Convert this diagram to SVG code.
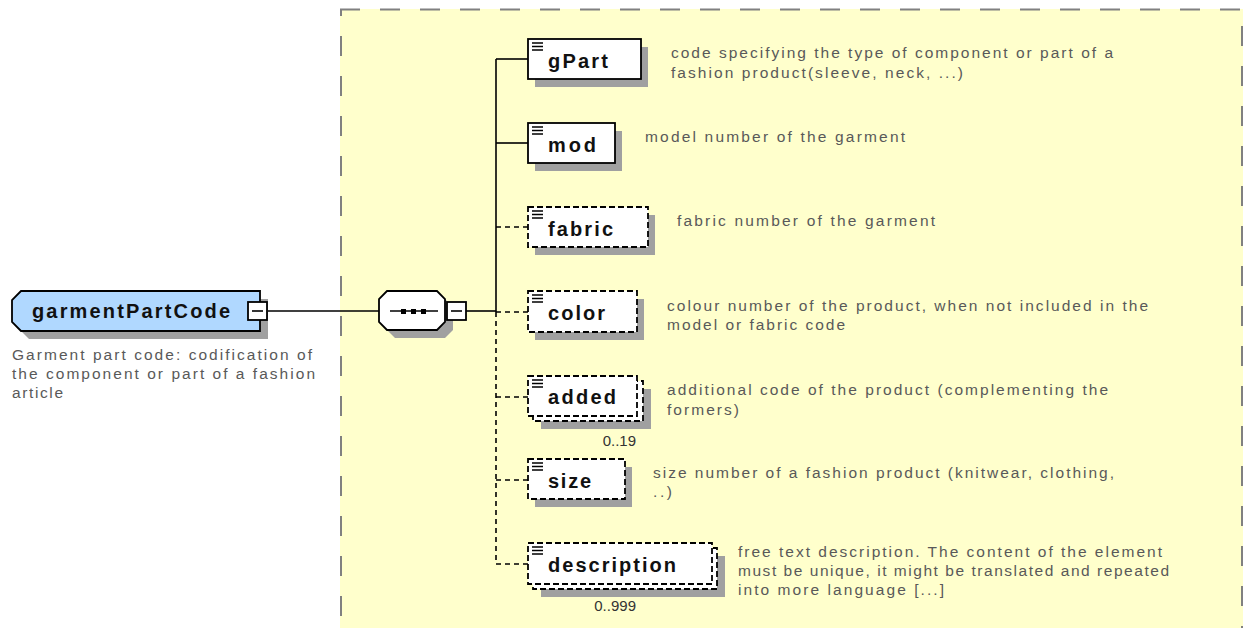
<svg xmlns="http://www.w3.org/2000/svg" width="1243" height="628" viewBox="0 0 1243 628">
<style>
.bg{fill:#FFFFCC}
.border{fill:none;stroke:#808080;stroke-width:2;stroke-dasharray:20 20}
.shadow{fill:#A0A0A0}
.box{fill:#FFFFFF;stroke:#000;stroke-width:1.8}
.dbox{fill:#FFFFFF;stroke:#000;stroke-width:1.8;stroke-dasharray:6 3}
.root{fill:#B0D8FF;stroke:#000;stroke-width:1.8}
.icon{stroke:#000;stroke-width:1.3}
.ln{fill:none;stroke:#000;stroke-width:1.6}
.dln{fill:none;stroke:#000;stroke-width:1.6;stroke-dasharray:5 4}
.lbl{font-family:"Liberation Sans",Arial,sans-serif;font-weight:bold;font-size:20px;fill:#111}
.doc{font-family:"Liberation Sans",Arial,sans-serif;font-size:15.5px;fill:#595959}
.occ{font-family:"Liberation Sans",Arial,sans-serif;font-size:15px;fill:#333;text-anchor:end}
</style>
<defs>
<g id="ico"><path class="icon" d="M0,0h11M0,3.5h11M0,7h11"/></g>
</defs>

<rect class="bg" x="340" y="9" width="903" height="640"/>
<path class="border" d="M340,9.5H1243"/>
<path class="border" d="M341,9V628" stroke-dashoffset="13"/>
<path class="border" d="M1242,9V628" stroke-dashoffset="23"/>

<g id="connectors">
<path class="ln" d="M267,311H379"/>
<path class="ln" d="M466,311H496"/>
<path class="ln" d="M496,59V312"/>
<path class="dln" d="M496,312V564"/>
<path class="ln" d="M496,59H528"/>
<path class="ln" d="M496,143H528"/>
<path class="dln" d="M496,227H528"/>
<path class="dln" d="M496,312H528"/>
<path class="dln" d="M496,397H528"/>
<path class="dln" d="M496,480H528"/>
<path class="dln" d="M496,564H528"/>
</g>

<g id="garmentPartCode">
<path class="shadow" d="M29,299H268V339H29L20,330V308Z"/>
<path class="root" d="M21,291H260V331H21L12,322V300Z"/>
<text class="lbl" x="32" y="318" textLength="198">garmentPartCode</text>
<rect class="box" x="248" y="302" width="19" height="18"/>
<path class="ln" d="M252,311H263"/>
<text class="doc" x="12" y="360" textLength="300">Garment part code: codification of</text>
<text class="doc" x="12" y="379" textLength="303">the component or part of a fashion</text>
<text class="doc" x="12" y="398" textLength="51">article</text>
</g>

<g id="sequence">
<path class="shadow" d="M395,299H445L453,307V330L445,338H395L387,330V307Z"/>
<path class="box" d="M387,291H437L445,299V322L437,330H387L379,322V299Z"/>
<path class="ln" d="M390,311H438"/>
<rect x="401" y="309" width="5" height="5" fill="#000"/>
<rect x="411" y="309" width="5" height="5" fill="#000"/>
<rect x="421" y="309" width="5" height="5" fill="#000"/>
<rect class="box" x="447" y="302" width="19" height="18"/>
<path class="ln" d="M451,311H462"/>
</g>

<g id="gPart">
<rect class="shadow" x="535" y="47" width="113" height="40"/>
<rect class="box" x="528" y="39" width="113" height="40"/>
<use href="#ico" x="532" y="43"/>
<text class="lbl" x="548" y="68" textLength="60">gPart</text>
<text class="doc" x="671" y="58" textLength="442">code specifying the type of component or part of a</text>
<text class="doc" x="671" y="78" textLength="292">fashion product(sleeve, neck, ...)</text>
</g>

<g id="mod">
<rect class="shadow" x="535" y="131" width="87" height="40"/>
<rect class="box" x="528" y="123" width="87" height="40"/>
<use href="#ico" x="532" y="127"/>
<text class="lbl" x="548" y="152" textLength="48">mod</text>
<text class="doc" x="645" y="142" textLength="260">model number of the garment</text>
</g>

<g id="fabric">
<rect class="shadow" x="535" y="215" width="120" height="40"/>
<rect class="dbox" x="528" y="207" width="120" height="40"/>
<use href="#ico" x="532" y="211"/>
<text class="lbl" x="548" y="236" textLength="65">fabric</text>
<text class="doc" x="677" y="226" textLength="258">fabric number of the garment</text>
</g>

<g id="color">
<rect class="shadow" x="535" y="299" width="109" height="41"/>
<rect class="dbox" x="528" y="291" width="109" height="41"/>
<use href="#ico" x="532" y="295"/>
<text class="lbl" x="548" y="320" textLength="57">color</text>
<text class="doc" x="667" y="311" textLength="481">colour number of the product, when not included in the</text>
<text class="doc" x="667" y="330" textLength="178">model or fabric code</text>
</g>

<g id="added">
<rect class="shadow" x="541" y="389" width="110" height="40"/>
<rect class="dbox" x="533" y="381" width="110" height="40"/>
<rect class="dbox" x="528" y="376" width="109" height="40"/>
<use href="#ico" x="532" y="380"/>
<text class="lbl" x="548" y="404" textLength="68">added</text>
<text class="occ" x="636" y="446">0..19</text>
<text class="doc" x="667" y="395" textLength="441">additional code of the product (complementing the</text>
<text class="doc" x="667" y="415" textLength="72">formers)</text>
</g>

<g id="size">
<rect class="shadow" x="535" y="467" width="97" height="40"/>
<rect class="dbox" x="528" y="459" width="97" height="40"/>
<use href="#ico" x="532" y="463"/>
<text class="lbl" x="548" y="488" textLength="43">size</text>
<text class="doc" x="653" y="478" textLength="461">size number of a fashion product (knitwear, clothing,</text>
<text class="doc" x="653" y="497" textLength="19">..)</text>
</g>

<g id="description">
<rect class="shadow" x="541" y="556" width="184" height="41"/>
<rect class="dbox" x="533" y="548" width="184" height="41"/>
<rect class="dbox" x="528" y="543" width="184" height="41"/>
<use href="#ico" x="532" y="547"/>
<text class="lbl" x="548" y="572" textLength="128">description</text>
<text class="occ" x="636" y="611">0..999</text>
<text class="doc" x="738" y="557" textLength="424">free text description. The content of the element</text>
<text class="doc" x="738" y="576" textLength="431">must be unique, it might be translated and repeated</text>
<text class="doc" x="738" y="595" textLength="206">into more language [...]</text>
</g>
</svg>
